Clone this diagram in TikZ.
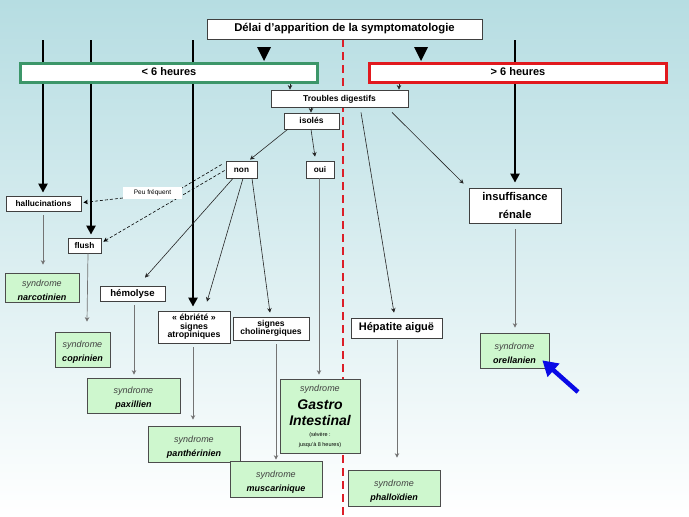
\documentclass[tikz,border=0pt]{standalone}
\usepackage{fontspec}
\setmainfont{Liberation Sans}
\usetikzlibrary{arrows.meta,calc}
\definecolor{bgtop}{RGB}{182,221,226}
\definecolor{synfill}{RGB}{206,247,206}
\definecolor{gborder}{RGB}{60,150,105}
\definecolor{rborder}{RGB}{225,25,30}
\definecolor{dashred}{RGB}{220,30,40}
\definecolor{bluearr}{RGB}{10,10,230}
\pgfdeclarelayer{backlayer}
\pgfdeclarelayer{midlayer}
\pgfsetlayers{backlayer,midlayer,main}
\newcommand{\fs}[1]{\fontsize{#1}{#1}\selectfont}
\newcommand{\synd}[1]{\rule{0pt}{12pt}{\itshape\color{black!75}syndrome}\\[5pt]{\bfseries\itshape #1}}
\begin{document}
\begin{tikzpicture}[x=1pt,y=-1pt,
  wh/.style 2 args={minimum width=#1pt, minimum height=#2pt},
  box/.style={draw=black!75, fill=white, line width=0.8pt, inner sep=0pt, font=\bfseries},
  one/.style={text height=8pt, text depth=2.5pt},
  syn/.style={draw=black!70, fill=synfill, line width=0.7pt, inner sep=0pt, align=center, font=\fs{9}},
  thinarr/.style={line width=0.6pt, draw=black!85, -{Stealth[length=4.5pt,width=4.5pt]}},
  grayarr/.style={line width=0.7pt, draw=black!55, -{Stealth[length=4.5pt,width=4.5pt]}},
  bigarr/.style={line width=2.6pt, -{Triangle[length=9pt,width=9pt]}},
  dasharr/.style={dash pattern=on 3pt off 2pt, line width=0.6pt, -{Stealth[length=4.5pt,width=4.5pt]}},
]
% background
\begin{pgfonlayer}{backlayer}
\shade[top color=bgtop, bottom color=white] (0,0) rectangle (689,517);
\end{pgfonlayer}
\useasboundingbox (0,0) rectangle (689,517);

% title
\node[box, one, wh={275}{20}, font=\bfseries\fs{11.3}] (title) at (344.5,29) {Délai d’apparition de la symptomatologie};

% nodes
\node[box, one, wh={297}{19}, draw=gborder, line width=3pt, font=\bfseries\fs{11}] (lt6) at (169,72.5) {< 6 heures};
\node[box, one, wh={297}{19}, draw=rborder, line width=3pt, font=\bfseries\fs{11}] (gt6) at (518,72.5) {> 6 heures};

\node[box, one, wh={137}{17}, font=\bfseries\fs{8.5}] (troubles) at (339.5,98.5) {Troubles digestifs};
\node[box, one, wh={55}{16}, font=\bfseries\fs{8.5}] (isoles) at (311.5,121) {isolés};
\node[box, one, wh={31}{17}, font=\bfseries\fs{8.2}] (non) at (241.5,169.5) {non};
\node[box, one, wh={28}{17}, font=\bfseries\fs{8.2}] (oui) at (320,169.5) {oui};
\node[box, one, wh={75}{15}, font=\bfseries\fs{8.3}] (halluc) at (43.5,203.5) {hallucinations};
\node[box, one, wh={33}{15}, font=\bfseries\fs{8.3}] (flush) at (84.5,245.5) {flush};
\node[box, one, wh={65}{15}, font=\bfseries\fs{9.6}] (hemo) at (132.5,293.5) {hémolyse};
\node[box, wh={72}{32}, align=center, font=\bfseries\fontsize{8.8}{8.5}\selectfont] (ebri) at (194,327) {« ébriété »\\signes\\atropiniques};
\node[box, wh={76}{23}, align=center, font=\bfseries\fontsize{8.6}{8.2}\selectfont] (chol) at (271,328.5) {signes\\cholinergiques};
\node[box, one, wh={91}{20}, font=\bfseries\fs{11}] (hepa) at (396.5,328) {Hépatite aiguë};
\node[box, wh={92}{35}, align=center, font=\bfseries\fs{11.2}] (insuf) at (515,205.5) {insuffisance\\[7pt]rénale};

\node[syn, wh={74}{29}] (narco) at (42,287.5) {\synd{narcotinien}};
\node[syn, wh={55}{35}] (copr) at (82.5,349.5) {\synd{coprinien}};
\node[syn, wh={93}{35}] (paxi) at (133.5,395.5) {\synd{paxillien}};
\node[syn, wh={92}{36}] (panth) at (194,444) {\synd{panthérinien}};
\node[syn, wh={92}{36}] (musc) at (276,479) {\synd{muscarinique}};
\node[syn, wh={92}{36}] (phal) at (394,488) {\synd{phalloïdien}};
\node[syn, wh={69}{35}] (orel) at (514.5,350.5) {\synd{orellanien}};
\node[syn, wh={80}{74}] (gastro) at (320,416) {{\itshape\color{black!75}syndrome}\\[6pt]{\fs{14}\bfseries\itshape Gastro}\\[4pt]{\fs{14}\bfseries\itshape Intestinal}\\[2pt]{\fs{5.5}(sévère :}\\[1pt]{\fs{5.5}jusqu’à 8 heures)}};

% red dashed separator and thick lines, behind the boxes
\coordinate (sepbot) at (343,517);
\coordinate (v1) at (43,40);
\coordinate (v2) at (91,40);
\coordinate (v3) at (193,40);
\coordinate (v4) at (515,40);
\begin{pgfonlayer}{midlayer}
\draw[dashred, line width=2.4pt, dash pattern=on 8pt off 5pt] (title.south -| sepbot) -- (sepbot);
\draw[bigarr, shorten >=3pt] (v1) -- (v1 |- halluc.north);
\draw[bigarr, shorten >=3pt] (v2) -- (v2 |- flush.north);
\draw[bigarr, shorten >=4pt] (v3) -- (v3 |- ebri.north);
\draw[bigarr, shorten >=5pt] (v4) -- (v4 |- insuf.north);
\end{pgfonlayer}

% big triangles under title
\coordinate (tri1) at (264,47);
\coordinate (tri2) at (421,47);
\fill (tri1) ++(-7,0) -- ++(14,0) -- ++(-7,14) -- cycle;
\fill (tri2) ++(-7,0) -- ++(14,0) -- ++(-7,14) -- cycle;

% short arrows from header boxes to Troubles digestifs
\draw[thinarr] (290,0 |- lt6.south) -- (290,0 |- troubles.north);
\draw[thinarr] (399,0 |- gt6.south) -- (399,0 |- troubles.north);

% troubles digestifs branches
\draw[thinarr] (311,0 |- troubles.south) -- (311,0 |- isoles.north);
\draw[thinarr] ([xshift=21.5pt,yshift=-5pt]troubles.south) -- ([xshift=-2.5pt,yshift=5pt]hepa.north);
\draw[thinarr] ([xshift=52.5pt,yshift=-5pt]troubles.south) -- ([xshift=-5pt,yshift=4pt]insuf.north west);

% isolés
\draw[thinarr] ([xshift=4pt]isoles.south west) -- ([xshift=8.5pt,yshift=1pt]non.north);
\draw[thinarr] ([xshift=-0.5pt]isoles.south) -- ([xshift=-5pt,yshift=4pt]oui.north);

% non branches
\draw[thinarr] ([xshift=-8.5pt]non.south) -- ([xshift=12.5pt,yshift=8pt]hemo.north);
\draw[thinarr] ([xshift=1.5pt]non.south) -- ([xshift=13pt,yshift=9pt]ebri.north);
\draw[thinarr] ([xshift=10.5pt]non.south) -- ([xshift=-1pt,yshift=4pt]chol.north);

% dashed "peu fréquent"
\draw[dasharr] ([xshift=-1pt,yshift=-1pt]non.west) -- ([xshift=2pt,yshift=-4pt]flush.north east);
\draw[dash pattern=on 3pt off 2pt, line width=0.6pt] ([xshift=-4pt,yshift=5pt]non.west) -- (182,188);
\node[fill=white, inner sep=0pt, wh={59}{12}, font=\fs{6.5}] (peu) at (152.5,193) {Peu fréquent};
\draw[dasharr] ([yshift=-5pt]peu.west) -- ([xshift=2pt,yshift=1pt]halluc.east);

% oui
\draw[grayarr] (oui.south -| 319,0) -- ([xshift=-1pt,yshift=4pt]gastro.north);

% vertical connectors to syndromes
\draw[grayarr, shorten <=4pt] (halluc.south -| 43,0) -- ([yshift=8pt]narco.north -| 43,0);
\draw[grayarr] (flush.south -| 88,0) -- ([yshift=10pt]copr.north -| 87,0);
\draw[grayarr, shorten <=4pt] (hemo.south -| 134,0) -- ([yshift=3pt]paxi.north -| 134,0);
\draw[grayarr, shorten <=4pt] (ebri.south -| 193,0) -- ([yshift=6pt]panth.north -| 193,0);
\draw[grayarr, shorten <=4pt] (chol.south -| musc.north) -- ([yshift=1pt]musc.north);
\draw[grayarr, shorten <=2pt] (hepa.south -| 397,0) -- ([yshift=12pt]phal.north -| 397,0);
\draw[grayarr, shorten <=6pt] (insuf.south) -- ([yshift=5pt]orel.north -| insuf.south);

% blue arrow
\coordinate (bluetail) at (578,392);
\draw[bluearr, line width=4.5pt, -{Triangle[length=15pt,width=17pt]}] (bluetail) -- ([xshift=-7pt,yshift=8pt]orel.south east);
\end{tikzpicture}
\end{document}
